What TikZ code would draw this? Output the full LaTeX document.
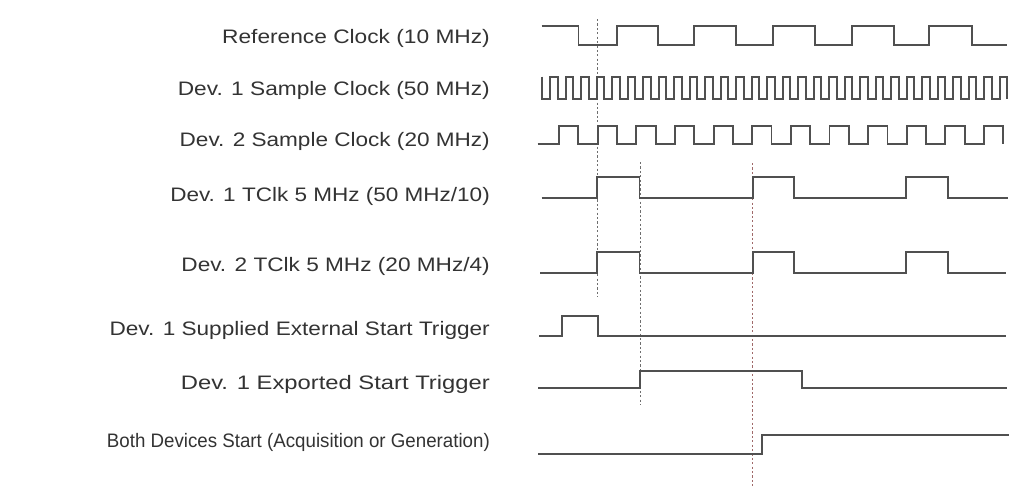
\documentclass[tikz,border=0pt]{standalone}
\usepackage{fontspec}
\usepackage{graphicx}
\setmainfont{Liberation Sans}
\begin{document}
\begin{tikzpicture}[x=1pt,y=-1pt,
  lbl/.style={anchor=east,inner sep=0pt,text=black!80,font=\fontsize{19.5}{22}\selectfont},
  wave/.style={draw={rgb,255:red,80;green,80;blue,80},line width=1.9pt,line join=miter},
  guide/.style={draw={rgb,255:red,110;green,110;blue,110},line width=1pt,dash pattern=on 2.2pt off 2.2pt},
  guidered/.style={draw={rgb,255:red,160;green,105;blue,105},line width=1pt,dash pattern=on 2.2pt off 2.2pt}]
\useasboundingbox (0,0) rectangle (1020,493);
\fill[white] (0,0) rectangle (1020,493);
% labels
\node[lbl] (l1) at (490,38.3) {\scalebox{1.165}[1]{Reference Clock (10 MHz)}};
\node[lbl] (l2) at (490,90) {\scalebox{1.164}[1]{Dev. 1 Sample Clock (50 MHz)}};
\node[lbl] (l3) at (490,141.7) {\scalebox{1.157}[1]{Dev. 2 Sample Clock (20 MHz)}};
\node[lbl] (l4) at (490,196.7) {\scalebox{1.155}[1]{Dev. 1 TClk 5 MHz (50 MHz/10)}};
\node[lbl] (l5) at (490,266.7) {\scalebox{1.16}[1]{Dev. 2 TClk 5 MHz (20 MHz/4)}};
\node[lbl] (l6) at (490,330) {\scalebox{1.159}[1]{Dev. 1 Supplied External Start Trigger}};
\node[lbl] (l7) at (490,384) {\scalebox{1.22}[1]{Dev. 1 Exported Start Trigger}};
\node[lbl] (l8) at (490,442) {\scalebox{0.96}[1]{Both Devices Start (Acquisition or Generation)}};
% guides
\draw[guide] (597,19) -- (597,297);
\draw[guide] (640,162) -- (640,405);
\draw[guidered] (752.7,163) -- (752.7,488);
% reference clock
\draw[wave] (541.7,25.7) -- (578.5,25.7) -- (578.5,45) -- (616.7,45) -- (616.7,25.7) -- (658.3,25.7) -- (658.3,45) -- (694.3,45) -- (694.3,25.7) -- (736,25.7) -- (736,45) -- (772.7,45) -- (772.7,25.7) -- (815,25.7) -- (815,45) -- (851.7,45) -- (851.7,25.7) -- (894,25.7) -- (894,45) -- (929.3,45) -- (929.3,25.7) -- (971.7,25.7) -- (971.7,45) -- (1006.7,45);
% dev 1 sample clock
\draw[wave] (542.3,76.7) -- (542.3,99.3) \foreach \k in {1,...,30}{ -- ++(7.75,0) -- ++(0,-22.6) -- ++(7.75,0) -- ++(0,22.6)};
% dev 2 sample clock
\draw[wave] (537.7,144.3) -- (559,144.3) \foreach \k in {1,...,11}{ -- ++(0,-18.3) -- ++(19.32,0) -- ++(0,18.3) -- ++(19.32,0)} -- ++(0,-18.3) -- ++(19.32,0) -- ++(0,18.3);
% TClk rows
\draw[wave] (541.7,197.7) -- (596.7,197.7) -- (596.7,177.3) -- (639.5,177.3) -- (639.5,197.7) -- (752.7,197.7) -- (752.7,177.3) -- (794,177.3) -- (794,197.7) -- (906,197.7) -- (906,177.3) -- (948.3,177.3) -- (948.3,197.7) -- (1008.3,197.7);
\draw[wave] (540,272.7) -- (596.7,272.7) -- (596.7,251.7) -- (639.5,251.7) -- (639.5,272.7) -- (752.7,272.7) -- (752.7,251.7) -- (794,251.7) -- (794,272.7) -- (906,272.7) -- (906,251.7) -- (948.3,251.7) -- (948.3,272.7) -- (1006,272.7);
% triggers
\draw[wave] (539.3,336) -- (562.3,336) -- (562.3,316) -- (598.3,316) -- (598.3,336) -- (1006,336);
\draw[wave] (538.3,388.3) -- (640,388.3) -- (640,370.7) -- (802.3,370.7) -- (802.3,388.3) -- (1007.3,388.3);
\draw[wave] (538,454) -- (762.3,454) -- (762.3,435) -- (1009.3,435);
\end{tikzpicture}
\end{document}
